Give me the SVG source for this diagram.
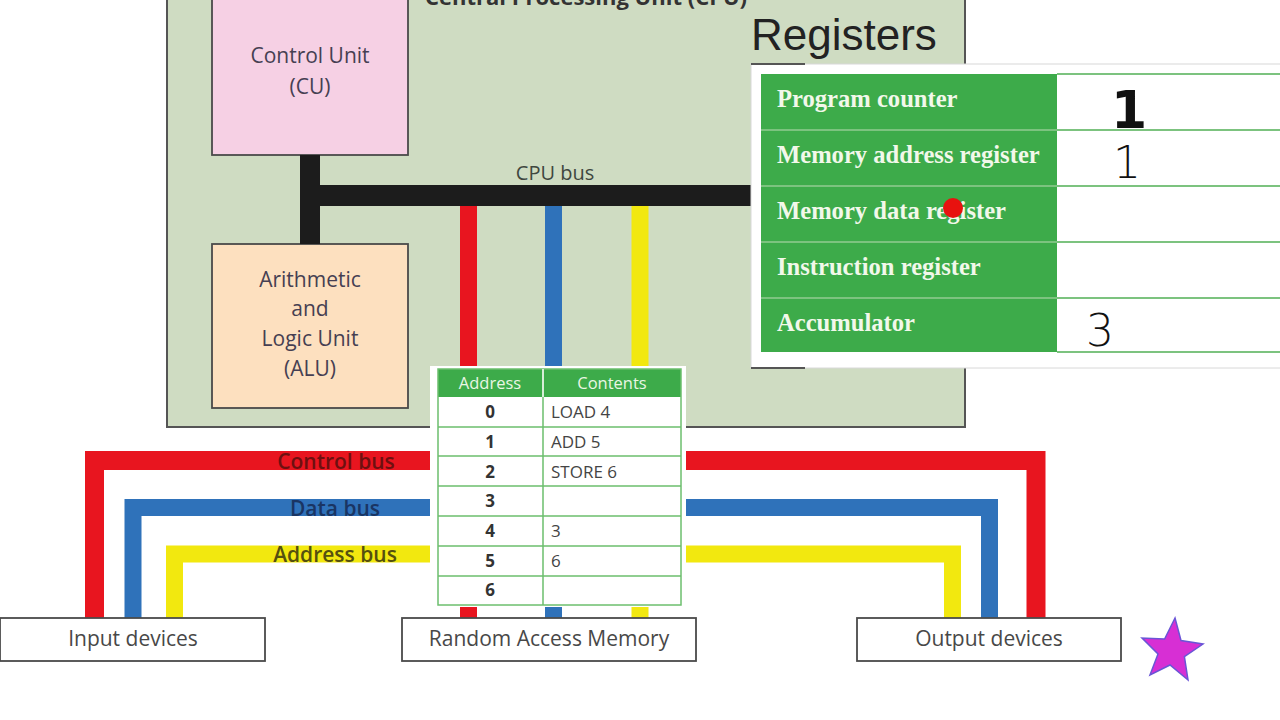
<svg xmlns="http://www.w3.org/2000/svg" width="1280" height="720" viewBox="0 0 1280 720">
<style>
.box{stroke:#4a4a4a;stroke-width:1.8}
.lbl{font-family:"Open Sans","Noto Sans",sans-serif;text-anchor:middle}
.unit{font-family:"Open Sans","Noto Sans",sans-serif;font-size:21px;fill:#463f52;text-anchor:middle}
.dev{font-family:"Open Sans","Noto Sans",sans-serif;font-size:21px;fill:#484848;text-anchor:middle}
.reg{font-family:"Liberation Serif","Times New Roman",serif;font-weight:bold;font-size:24.6px;fill:#f2f8ea}
.mh{font-family:"Open Sans","Noto Sans",sans-serif;font-size:16.5px;fill:#eaf6e4;text-anchor:middle}
.mn{font-family:"Open Sans","Noto Sans",sans-serif;font-size:17px;font-weight:bold;fill:#333;text-anchor:middle}
.mc{font-family:"Open Sans","Noto Sans",sans-serif;font-size:17px;fill:#444}
.bus{fill:none;stroke-linejoin:miter;stroke-linecap:butt}
.hand{font-family:"DejaVu Sans",sans-serif;fill:#111;text-anchor:middle}
</style>
<rect width="1280" height="720" fill="#ffffff"/>

<g id="cpu">
<rect x="167" y="-10" width="798" height="437" fill="#cfdcc2" stroke="#555" stroke-width="2"/>
<text x="586" y="5" class="lbl" font-size="22" font-weight="bold" fill="#333">Central Processing Unit (CPU)</text>
</g>

<g id="cu">
<rect class="box" x="212" y="-5" width="196" height="160" fill="#f6d0e4"/>
<text class="unit" x="310" y="63">Control Unit</text>
<text class="unit" x="310" y="94">(CU)</text>
</g>

<g id="alu">
<rect class="box" x="212" y="244" width="196" height="164" fill="#fde0bf"/>
<text class="unit" x="310" y="287">Arithmetic</text>
<text class="unit" x="310" y="316">and</text>
<text class="unit" x="310" y="346">Logic Unit</text>
<text class="unit" x="310" y="376">(ALU)</text>
</g>

<g id="connectors">
<path class="bus" d="M310 155 V244" stroke="#1c1c1c" stroke-width="20"/>
<path class="bus" d="M300 195.5 H752" stroke="#1c1c1c" stroke-width="21"/>
<path class="bus" d="M468.5 206 V618" stroke="#e8151f" stroke-width="17"/>
<path class="bus" d="M553.5 206 V618" stroke="#2f72ba" stroke-width="17"/>
<path class="bus" d="M640 206 V618" stroke="#f2e80f" stroke-width="17"/>
<path class="bus" d="M94.5 618 V460.5 H1036 V618" stroke="#e8151f" stroke-width="19"/>
<path class="bus" d="M133 618 V507.5 H989.5 V618" stroke="#2f72ba" stroke-width="17"/>
<path class="bus" d="M174.5 618 V554 H952.5 V618" stroke="#f2e80f" stroke-width="17"/>
<text class="lbl" x="336" y="469" font-size="21" font-weight="600" fill="#6e1010">Control bus</text>
<text class="lbl" x="335" y="516" font-size="21" font-weight="600" fill="#1a3563">Data bus</text>
<text class="lbl" x="335" y="562" font-size="21" font-weight="600" fill="#55500f">Address bus</text>
<text class="lbl" x="555" y="180" font-size="20" fill="#3f473f">CPU bus</text>
</g>

<g id="registers">
<text x="751" y="50" font-family="Liberation Sans,Arial,sans-serif" font-size="44" fill="#222">Registers</text>
<rect x="751" y="64" width="540" height="304" fill="#ffffff" stroke="#d8d8d8" stroke-width="1"/>
<path d="M751 64 H805 M751 368 H805" stroke="#555" stroke-width="2"/>
<rect x="761" y="74" width="296" height="278" fill="#3dab4a"/>
<g stroke="#7cc37f" stroke-width="2">
<path d="M1057 74 H1280 M761 130 H1280 M761 186 H1280 M761 242 H1280 M761 298 H1280 M1057 352 H1280"/>
</g>
<text class="reg" x="777" y="107">Program counter</text>
<text class="reg" x="777" y="163">Memory address register</text>
<text class="reg" x="777" y="219">Memory data register</text>
<text class="reg" x="777" y="275">Instruction register</text>
<text class="reg" x="777" y="331">Accumulator</text>
<circle cx="953" cy="208" r="10" fill="#e8120f"/>
<text class="hand" x="1129" y="128" font-size="52" font-weight="bold">1</text>
<text class="hand" x="1127" y="178" font-size="44" font-weight="200">1</text>
<text class="hand" x="1100" y="346" font-size="44" font-weight="200">3</text>
</g>

<g id="memory-table">
<rect x="430" y="366" width="256" height="241" fill="#ffffff"/>
<rect x="438" y="369" width="243" height="28" fill="#3dab4a"/>
<g stroke="#6cbf6e" stroke-width="1.5" fill="none">
<rect x="438" y="369" width="243" height="236"/>
<path d="M543 369 V605 M438 427 H681 M438 456 H681 M438 486 H681 M438 516 H681 M438 546 H681 M438 576 H681"/>
</g>
<path d="M543 369 V397" stroke="#ffffff" stroke-width="1.5"/>
<text class="mh" x="490" y="389">Address</text>
<text class="mh" x="612" y="389">Contents</text>
<text class="mn" x="490" y="418">0</text>
<text class="mn" x="490" y="448">1</text>
<text class="mn" x="490" y="478">2</text>
<text class="mn" x="490" y="507">3</text>
<text class="mn" x="490" y="537">4</text>
<text class="mn" x="490" y="567">5</text>
<text class="mn" x="490" y="596">6</text>
<text class="mc" x="551" y="418">LOAD 4</text>
<text class="mc" x="551" y="448">ADD 5</text>
<text class="mc" x="551" y="478">STORE 6</text>
<text class="mc" x="551" y="537">3</text>
<text class="mc" x="551" y="567">6</text>
</g>

<g id="input-devices">
<rect class="box" x="0" y="618" width="265" height="43" fill="#ffffff"/>
<text class="dev" x="133" y="646">Input devices</text>
</g>
<g id="ram">
<rect class="box" x="402" y="618" width="294" height="43" fill="#ffffff"/>
<text class="dev" x="549" y="646">Random Access Memory</text>
</g>
<g id="output-devices">
<rect class="box" x="857" y="618" width="264" height="43" fill="#ffffff"/>
<text class="dev" x="989" y="646">Output devices</text>
</g>

<g id="star">
<polygon points="1175,618 1181,640.5 1203,644 1184.4,656.7 1188,680 1170,665 1150,675 1158,654 1142,638 1164.6,639" fill="#d72fd4" stroke="#6a55d6" stroke-width="1.5"/>
</g>
</svg>
